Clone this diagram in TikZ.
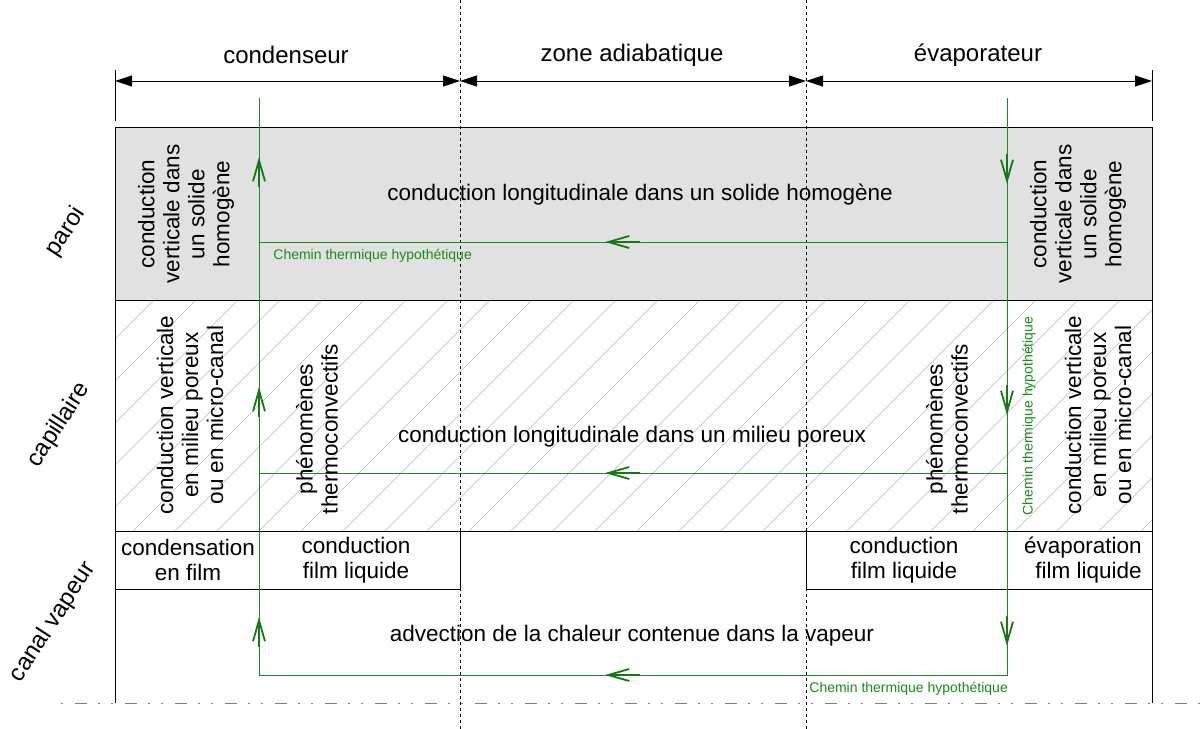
\documentclass[tikz,border=0pt]{standalone}
\usepackage{fontspec}
\setmainfont{Liberation Sans}
\usetikzlibrary{arrows.meta}

\definecolor{pathgreen}{RGB}{25,140,25}
\definecolor{wallgray}{RGB}{225,225,225}

\begin{document}
\begin{tikzpicture}[x=0.5pt,y=-0.5pt,
    txt/.style={font=\fontsize{11.25}{12.5}\selectfont, align=center, inner sep=0pt},
    head/.style={font=\fontsize{12}{13}\selectfont, inner sep=0pt},
    small/.style={font=\fontsize{7}{8}\selectfont, text=pathgreen, inner sep=0pt},
    side/.style={head, rotate=57},
    dimline/.style={thin, {Triangle[length=8.5pt,width=5.5pt]}-{Triangle[length=8.5pt,width=5.5pt]}},
    zoneline/.style={thin, dash pattern=on 1.5pt off 1.5pt},
    axisline/.style={gray, thin, dash pattern=on 1pt off 6pt on 6pt off 5.5pt on 1pt off 5.5pt},
    hatch/.style={gray!55, very thin},
    heatpath/.style={pathgreen, line width=0.5pt},
    heattip/.style={pathgreen!85!black, line width=0.9pt, -{Straight Barb[length=10.5pt,width=6pt]}}]

  \useasboundingbox[fill=white] (0,0) rectangle (1201,729);

  % rows and columns
  \def\xl{115}
  \def\xr{1152}
  \def\xa{460}
  \def\xb{806}
  \def\xc{259}
  \def\xe{1007}

  % wall and wick
  \fill[wallgray] (\xl,127) rectangle (\xr,300);
  \begin{scope}
    \clip (\xl,300) rectangle (\xr,531);
    \foreach \k in {-6,...,25}
    {
      \draw[hatch] ({133+42*\k},531) -- ++(231,-231);
    }
  \end{scope}
  \draw (\xl,127) rectangle (\xr,531);
  \draw (\xl,300) -- (\xr,300);

  % liquid film boxes
  \draw (\xl,531) rectangle (\xa,589);
  \draw (\xb,531) rectangle (\xr,589);
  \draw (\xl,589) -- (\xl,703);
  \draw (\xr,589) -- (\xr,703);

  % zone dimensions
  \draw (\xl,70) -- (\xl,121);
  \draw (\xr,70) -- (\xr,121);
  \coordinate (z0) at (\xl,81);
  \coordinate (z1) at (\xa,81);
  \coordinate (z2) at (\xb,81);
  \coordinate (z3) at (\xr,81);
  \draw[dimline] (z0) -- (z1);
  \draw[dimline] (z1) -- (z2);
  \draw[dimline] (z2) -- (z3);
  \foreach \xx in {\xa,\xb}
  {
    \draw[zoneline] (\xx,0) -- (\xx,729);
  }
  \draw[axisline] (61,703) -- (1201,703);

  \node[head] (cond) at (286,55) {condenseur};
  \node[head] (adia) at (632,55) {zone adiabatique};
  \node[head] (evap) at (978,55) {évaporateur};

  % row names
  \node[side] (paroi) at (66,232) {paroi};
  \node[side] (capil) at (59,425) {capillaire};
  \node[side] (canal) at (53,622) {canal vapeur};

  % hypothetical heat path
  \coordinate (ptop) at (\xe,98);
  \coordinate (pbot) at (\xe,675);
  \coordinate (qbot) at (\xc,675);
  \coordinate (qtop) at (\xc,98);
  \draw[heatpath] (ptop) -- (pbot) -- (qbot) -- (qtop);
  \draw[heatpath] (\xe,242) -- (\xc,242);
  \draw[heatpath] (\xe,473) -- (\xc,473);
  \foreach \yy in {157,387,617}
  {
    \draw[heattip] (\xc,\yy+30) -- (\xc,\yy);
  }
  \foreach \yy in {184,415,646}
  {
    \draw[heattip] (\xe,\yy-30) -- (\xe,\yy);
  }
  \foreach \yy in {242,473,675}
  {
    \draw[heattip] (640,\yy) -- (605,\yy);
  }

  % wall
  \node[txt, rotate=90] (wallL) at (186,214) {conduction\\verticale dans\\un solide\\homogène};
  \node[txt, rotate=90] (wallR) at (1078,214) {conduction\\verticale dans\\un solide\\homogène};
  \node[txt] (wallC) at (640,195) {conduction longitudinale dans un solide homogène};
  \node[small, anchor=west] (pathA) at (273,256) {Chemin thermique hypothétique};

  % wick
  \node[txt, rotate=90] (wickL) at (190,415) {conduction verticale\\en milieu poreux\\ou en micro-canal};
  \node[txt, rotate=90] (wickR) at (1098,415) {conduction verticale\\en milieu poreux\\ou en micro-canal};
  \node[txt, rotate=90] (convL) at (317,429) {phénomènes\\thermoconvectifs};
  \node[txt, rotate=90] (convR) at (947,429) {phénomènes\\thermoconvectifs};
  \node[txt] (wickC) at (632,437) {conduction longitudinale dans un milieu poreux};
  \node[small, rotate=90] (pathB) at (1029,416) {Chemin thermique hypothétique};

  % vapour channel
  \node[txt] (filmA) at (188,560) {condensation\\en film};
  \node[txt] (filmB) at (356,560) {conduction\\film liquide};
  \node[txt] (filmC) at (904,560) {conduction\\film liquide};
  \node[txt, align=right, anchor=east] (filmD) at (1142,560) {évaporation\\film liquide};
  \node[txt] (vapC) at (632,636) {advection de la chaleur contenue dans la vapeur};
  \node[small, anchor=west] (pathC) at (809,689) {Chemin thermique hypothétique};
\end{tikzpicture}
\end{document}
